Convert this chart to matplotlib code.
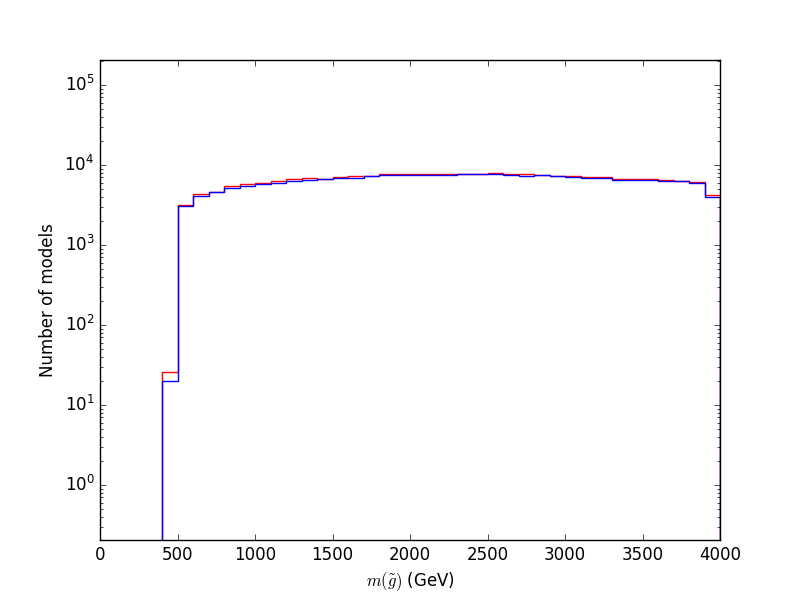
"""Gluino mass distribution of the model sample, two selections overlaid.

Outputs:
  out.png
"""

import matplotlib

matplotlib.use("Agg")  # headless
import matplotlib.pyplot as plt
import numpy as np

# ---- Data ----

BIN_LO = 400
BIN_HI = 4000
BIN_W = 100

counts_red = [
    26, 3150, 4300, 4650, 5400, 5800, 5900, 6300, 6650, 6800,
    6750, 7080, 7350, 7250, 7600, 7600, 7800, 7800, 7800, 7750,
    7750, 8000, 7750, 7700, 7500, 7300, 7290, 7020, 7020, 6680,
    6680, 6600, 6420, 6300, 6080, 4220,
]
counts_blue = [
    20, 3050, 4100, 4550, 5100, 5450, 5850, 5900, 6300, 6550,
    6700, 6900, 6950, 7250, 7500, 7500, 7550, 7550, 7550, 7700,
    7700, 7800, 7500, 7300, 7400, 7300, 7020, 6830, 6830, 6490,
    6490, 6420, 6250, 6250, 5900, 3980,
]

X_LIM = (0, 4000)
Y_LIM = (0.205, 2.05e5)


def main():
    plt.style.use("classic")
    fig, ax = plt.subplots(figsize=(8, 6), dpi=100)
    fig.patch.set_facecolor("white")

    edges = np.arange(BIN_LO, BIN_HI + BIN_W, BIN_W)
    centres = 0.5 * (edges[:-1] + edges[1:])

    ax.hist(centres, bins=edges, weights=counts_red, histtype="step",
            color="red", log=True, linewidth=1.0)
    ax.hist(centres, bins=edges, weights=counts_blue, histtype="step",
            color="blue", log=True, linewidth=1.0)

    ax.set_xlim(*X_LIM)
    ax.set_ylim(*Y_LIM)
    ax.set_xlabel(r"$m(\tilde{g})$ (GeV)")
    ax.set_ylabel("Number of models")

    fig.savefig("out.png", dpi=100, facecolor="white")


if __name__ == "__main__":
    main()
